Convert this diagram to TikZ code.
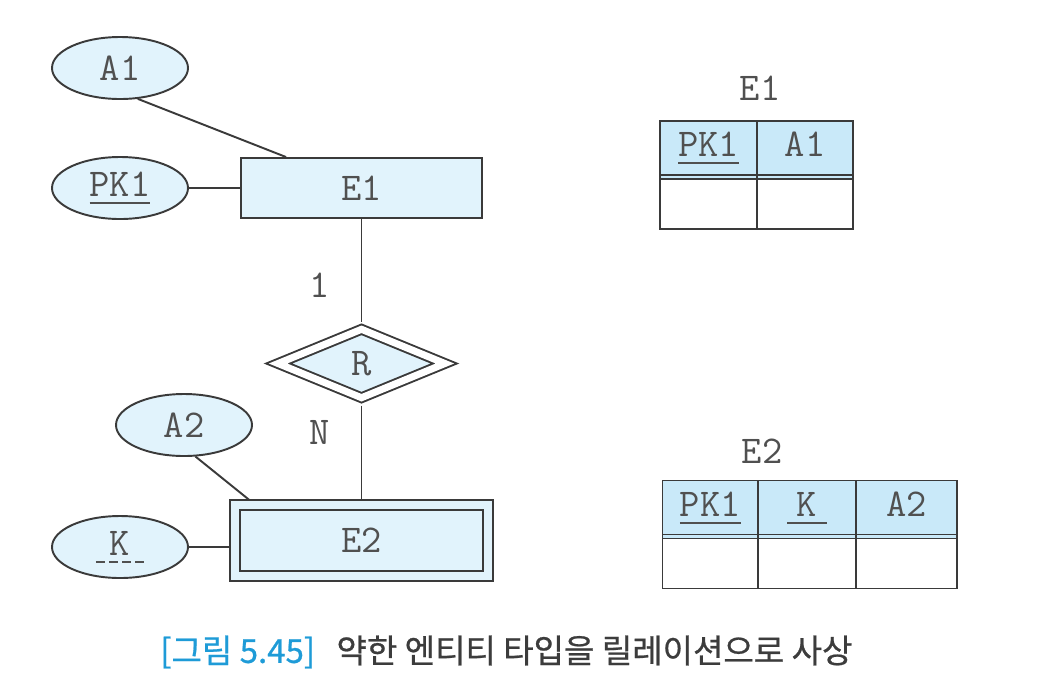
\documentclass[tikz,border=0pt]{standalone}
\usepackage{fontspec}
\usetikzlibrary{shapes.geometric, positioning}
\newfontfamily\krfont[FakeBold=0.7]{Noto Sans CJK KR}
\definecolor{Ink}{HTML}{3A3A3A}
\definecolor{Label}{HTML}{505050}
\definecolor{Sky}{HTML}{E1F3FC}
\definecolor{SkyHead}{HTML}{C9E9F9}
\definecolor{CapBlue}{HTML}{1E9BD7}
\definecolor{CapGray}{HTML}{3C3C3C}

\newsavebox\keybox
\newcommand{\pkey}[1]{\sbox\keybox{#1}\rlap{\raisebox{-4.5pt}{\rule{\wd\keybox}{1.1pt}}}\usebox\keybox}
\newcommand{\partkey}[1]{\sbox\keybox{#1}\rlap{\raisebox{-4.5pt}{\hbox to\wd\keybox{\xleaders\hbox to 7pt{\hss\vrule height 1.1pt depth 0pt width 5pt\hss}\hfill}}}\usebox\keybox}

\tikzset{
  er/.style={draw=Ink, line width=1.1pt, fill=Sky, text=Label, font=\ttfamily\fontsize{22.4}{24}\selectfont, inner sep=0pt},
  attr/.style={er, ellipse, minimum width=2.72cm, minimum height=1.24cm},
  entity/.style={er, rectangle, minimum width=4.82cm, minimum height=1.2cm},
  weakentity/.style={er, rectangle, double=Sky, double distance=0.16cm, outer sep=0.11cm, minimum width=5.05cm, minimum height=1.42cm},
  weakrel/.style={er, diamond, double=white, double distance=0.14cm, outer sep=0.11cm, minimum width=3.43cm, minimum height=1.46cm},
  link/.style={draw=Ink, line width=1.1pt},
  card/.style={text=Label, font=\ttfamily\fontsize{22.4}{24}\selectfont},
  headcell/.style={draw=Ink, line width=1.1pt, fill=SkyHead, text=Label, font=\ttfamily\fontsize{22.4}{24}\selectfont, inner sep=0pt, outer sep=0pt, text height=0.71cm, text depth=0.45cm, anchor=north west},
  bodycell/.style={draw=Ink, line width=1.1pt, fill=white, inner sep=0pt, outer sep=0pt, minimum height=1cm}
}

\begin{document}
\begin{tikzpicture}
\useasboundingbox (0,0) rectangle (21.02,-13.76);

% ER diagram
\node[attr] (A1) at (2.4,-1.36) {A1};
\node[attr] (PK1) at (2.4,-3.76) {\pkey{PK1}};
\node[entity] (E1) at (7.23,-3.76) {E1};
\node[weakrel] (R) at (7.23,-7.27) {R};
\node[attr] (A2) at (3.68,-8.5) {A2};
\node[attr] (K) at (2.4,-10.94) {\partkey{\kern.42em K\kern.42em}};
\node[weakentity] (E2) at (7.23,-10.81) {E2};

\draw[link] (A1.-60) -- ([xshift=0.92cm]E1.north west);
\draw[link] (PK1) -- (E1);
\draw[link] (E1) -- (R);
\draw[link] (R) -- (E2);
\draw[link] (A2.-70) -- ([xshift=0.38cm]E2.north west);
\draw[link] (K.east) -- (K.east -| E2.west);

\node[card] (one) at (6.4,-5.7) {1};
\node[card] (many) at (6.4,-8.64) {N};

% relation E1
\node[card] (T1) at (15.2,-1.76) {E1};
\node[headcell, minimum width=1.94cm] (T1pk) at (13.2,-2.42) {\pkey{PK1}};
\node[headcell, minimum width=1.92cm, right=0pt of T1pk] (T1a) {A1};
\node[bodycell, minimum width=1.94cm, below=0pt of T1pk] (T1pkv) {};
\node[bodycell, minimum width=1.92cm, below=0pt of T1a] (T1av) {};
\draw[link] ([yshift=0.08cm]T1pk.south west) -- ([yshift=0.08cm]T1a.south east);

% relation E2
\node[card] (T2) at (15.24,-9.02) {E2};
\node[headcell, minimum width=1.91cm] (T2pk) at (13.25,-9.61) {\pkey{PK1}};
\node[headcell, minimum width=1.96cm, right=0pt of T2pk] (T2k) {\pkey{\kern.25em K\kern.25em}};
\node[headcell, minimum width=2.02cm, right=0pt of T2k] (T2a) {A2};
\node[bodycell, minimum width=1.91cm, below=0pt of T2pk] (T2pkv) {};
\node[bodycell, minimum width=1.96cm, below=0pt of T2k] (T2kv) {};
\node[bodycell, minimum width=2.02cm, below=0pt of T2a] (T2av) {};
\draw[link] ([yshift=0.08cm]T2pk.south west) -- ([yshift=0.08cm]T2a.south east);

% caption
\node[anchor=west, inner sep=0pt, text=CapGray, font=\krfont\fontsize{18.8}{22}\selectfont] (cap) at (3.2,-13.04)
  {\textcolor{CapBlue}{[그림 5.45]}\hspace{0.65em}약한 엔티티 타입을 릴레이션으로 사상};
\end{tikzpicture}
\end{document}
